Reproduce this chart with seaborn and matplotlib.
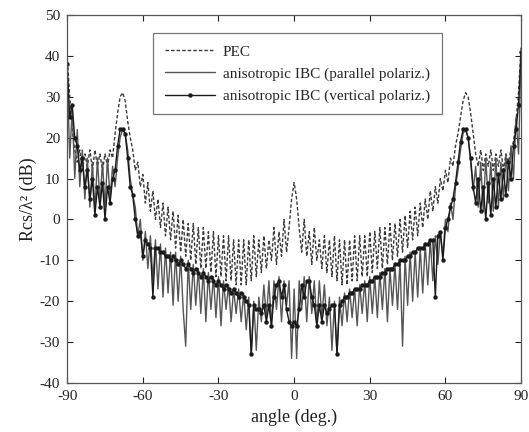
import numpy as np
import pandas as pd
import matplotlib
matplotlib.use("Agg")
import matplotlib.pyplot as plt
import seaborn as sns

angles = list(range(-90, 91))

pec = [
    40, 30, 22, 17, 14, 17, 12, 16, 13, 17,
    12, 17, 13, 16, 12, 16, 13, 17, 15, 21,
    26, 30, 31, 29, 24, 20, 17, 12, 14, 8,
    11, 4, 9, 2, 7, 0, 5, -2, 4, -4,
    3, -5, 2, -7, 1, -8, 0, -9, -1, -10,
    -1, -11, -2, -12, -2, -12, -3, -13, -3, -14,
    -4, -14, -4, -15, -4, -15, -5, -16, -5, -16,
    -5, -16, -5, -15, -4, -14, -5, -13, -4, -12,
    -5, -10, -2, -11, -3, -9, 0, -8, -2, 5,
    9,
    5, -2, -8, 0, -9, -3, -11, -2, -10, -5,
    -12, -4, -13, -5, -14, -4, -15, -5, -16, -5,
    -16, -5, -15, -4, -15, -4, -14, -4, -14, -3,
    -13, -3, -12, -2, -12, -2, -11, -1, -10, -1,
    -9, 0, -8, 1, -7, 2, -5, 3, -4, 4,
    -2, 5, 0, 7, 2, 8, 4, 10, 7, 12,
    9, 15, 13, 18, 21, 25, 29, 31, 30, 26,
    21, 16, 13, 17, 12, 16, 13, 17, 12, 16,
    13, 17, 12, 16, 14, 17, 19, 24, 31, 42,
]

parallel = [
    36, 15, 27, 10, 22, 8, 17, 5, 15, 3,
    14, 2, 15, 4, 14, 3, 15, 5, 13, 8,
    15, 20, 22, 21, 17, 10, 6, 3, -4, 0,
    -10, -3, -12, -4, -15, -5, -17, -6, -19, -7,
    -18, -8, -21, -8, -20, -9, -22, -31, -10, -22,
    -11, -21, -12, -23, -12, -25, -13, -22, -14, -24,
    -14, -26, -15, -22, -16, -25, -17, -23, -17, -25,
    -18, -27, -19, -33, -20, -32, -19, -25, -16, -24,
    -15, -26, -15, -22, -14, -25, -15, -21, -15, -34,
    -17,
    -34, -15, -22, -14, -25, -14, -23, -15, -26, -15,
    -24, -16, -26, -19, -32, -20, -33, -19, -26, -18,
    -25, -17, -24, -17, -26, -16, -23, -15, -25, -14,
    -23, -14, -24, -13, -22, -12, -25, -12, -21, -11,
    -22, -10, -31, -9, -21, -8, -20, -8, -19, -7,
    -18, -6, -16, -5, -15, -4, -11, -3, -9, 0,
    -3, 4, 0, 8, 12, 17, 21, 22, 20, 14,
    7, 13, 3, 14, 2, 15, 4, 14, 2, 15,
    3, 14, 5, 16, 7, 18, 10, 25, 16, 40,
]

vertical = [
    38, 25, 28, 20, 18, 12, 15, 8, 12, 5,
    10, 1, 8, 3, 9, 0, 8, 4, 10, 12,
    18, 22, 22, 21, 15, 8, 6, 0, -4, -3,
    -9, -5, -6, -7, -19, -7, -7, -8, -8, -9,
    -9, -10, -9, -10, -11, -10, -11, -12, -11, -12,
    -13, -12, -13, -14, -13, -14, -15, -14, -15, -16,
    -15, -16, -17, -16, -17, -18, -17, -18, -19, -18,
    -19, -20, -21, -33, -21, -22, -22, -23, -21, -25,
    -21, -26, -19, -16, -15, -19, -16, -22, -25, -26,
    -25,
    -26, -22, -16, -19, -15, -15, -19, -21, -26, -21,
    -25, -21, -23, -22, -21, -21, -33, -21, -20, -19,
    -19, -18, -18, -17, -17, -17, -16, -16, -16, -15,
    -15, -14, -14, -14, -13, -13, -12, -12, -12, -11,
    -11, -10, -10, -10, -9, -9, -8, -8, -7, -7,
    -7, -6, -6, -5, -5, -19, -4, -3, -10, -2,
    0, 3, 5, 9, 14, 19, 22, 22, 20, 15,
    8, 4, 10, 2, 8, 0, 9, 1, 10, 3,
    11, 5, 12, 6, 14, 10, 18, 22, 28, 41,
]

x_ticks = [-90, -60, -30, 0, 30, 60, 90]
y_ticks = [-40, -30, -20, -10, 0, 10, 20, 30, 40, 50]

sns.set_style("ticks")
plt.rcParams['font.family'] = ['Liberation Serif', 'DejaVu Serif']
plt.rcParams['axes.unicode_minus'] = False

df = pd.DataFrame({"angle": angles, "pec": pec, "par": parallel, "ver": vertical})

fig = plt.figure(figsize=(5.29, 4.32), dpi=100)
ax = fig.add_axes([0.127, 0.1134, 0.858, 0.852])

sns.lineplot(data=df, x="angle", y="pec", ax=ax, color="#3a3a3a", lw=1.0,
             linestyle=(0, (2.5, 1.5)), label="PEC", estimator=None, sort=False)
sns.lineplot(data=df, x="angle", y="par", ax=ax, color="#555555", lw=1.0,
             label="anisotropic IBC (parallel polariz.)", estimator=None, sort=False)
sns.lineplot(data=df, x="angle", y="ver", ax=ax, color="#1a1a1a", lw=1.0,
             marker="o", markersize=3.2, markeredgewidth=0,
             label="anisotropic IBC (vertical polariz.)", estimator=None, sort=False)

ax.set_xlim(-90, 90)
ax.set_ylim(-40, 50)
ax.set_xticks(x_ticks)
ax.set_yticks(y_ticks)
ax.tick_params(direction="in", top=True, right=True, length=4, width=0.8,
               labelsize=11, colors="#222222", pad=5)
for s in ax.spines.values():
    s.set_color("#555555")
    s.set_linewidth(0.9)
ax.set_xlabel("angle (deg.)", fontsize=13, color="#222222", labelpad=4)
ax.set_ylabel("Rcs/\u03bb\u00b2 (dB)", fontsize=13, color="#222222", labelpad=2)

leg = ax.legend(loc="upper left", bbox_to_anchor=(0.19, 0.95), fontsize=11,
                frameon=True, fancybox=False, handlelength=3.3, handletextpad=0.5,
                borderpad=0.75, labelspacing=0.55, borderaxespad=0)
leg.get_frame().set_edgecolor("#555555")
leg.get_frame().set_linewidth(0.9)

fig.savefig("out.png", dpi=100)
